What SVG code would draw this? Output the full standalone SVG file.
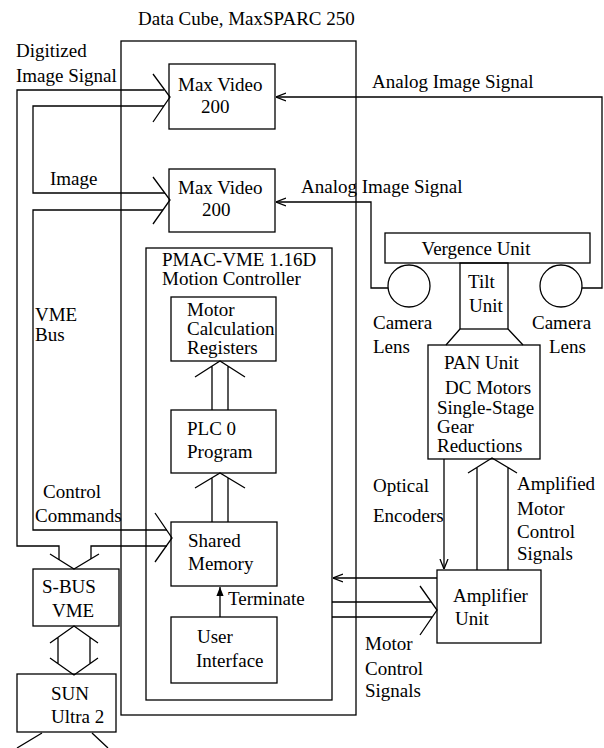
<svg xmlns="http://www.w3.org/2000/svg" width="604" height="748" viewBox="0 0 604 748">
<style>
.b{fill:none;stroke:#000;stroke-width:1.3}
.t{font-family:"Liberation Serif","Times New Roman",serif;font-size:19px;fill:#000}
.m{text-anchor:middle}
</style>
<defs>
<marker id="oa" viewBox="0 0 10 10" refX="10" refY="5" markerWidth="10" markerHeight="10" markerUnits="userSpaceOnUse" orient="auto">
<path d="M0,1 L10,5 L0,9" fill="none" stroke="#000" stroke-width="1.3"/>
</marker>
<marker id="fa" viewBox="0 0 10 10" refX="10" refY="5" markerWidth="9" markerHeight="9" markerUnits="userSpaceOnUse" orient="auto">
<path d="M0,1 L10,5 L0,9 Z" fill="#000"/>
</marker>
</defs>
<rect width="604" height="748" fill="#fff"/>

<g id="datacube">
<rect class="b" x="121" y="41" width="235" height="674"/>
<text class="t" x="138" y="25">Data Cube, MaxSPARC 250</text>
</g>
<g id="maxvideo1">
<rect class="b" x="169" y="64" width="106" height="65"/>
<text class="t" x="178" y="91">Max Video</text>
<text class="t" x="201" y="113">200</text>
</g>
<g id="maxvideo2">
<rect class="b" x="169" y="169" width="106" height="63"/>
<text class="t" x="178" y="194">Max Video</text>
<text class="t" x="202" y="216">200</text>
</g>
<g id="pmac">
<rect class="b" x="146" y="248" width="186" height="452"/>
<text class="t" x="162" y="266">PMAC-VME 1.16D</text>
<text class="t" x="162" y="285">Motion Controller</text>
</g>
<g id="motorcalc">
<rect class="b" x="171" y="297" width="105" height="64"/>
<text class="t" x="187" y="316">Motor</text>
<text class="t" x="187" y="335">Calculation</text>
<text class="t" x="187" y="354">Registers</text>
</g>
<g id="plc0">
<rect class="b" x="171" y="410" width="105" height="63"/>
<text class="t" x="187" y="435">PLC 0</text>
<text class="t" x="187" y="458">Program</text>
</g>
<g id="sharedmem">
<rect class="b" x="171" y="522" width="106" height="64"/>
<text class="t" x="188" y="547">Shared</text>
<text class="t" x="188" y="570">Memory</text>
</g>
<g id="userif">
<rect class="b" x="171" y="617" width="106" height="66"/>
<text class="t" x="197" y="643">User</text>
<text class="t" x="196" y="667">Interface</text>
</g>
<g id="sbus">
<rect class="b" x="33" y="569" width="86" height="57"/>
<text class="t" x="42" y="593">S-BUS</text>
<text class="t" x="52" y="617">VME</text>
</g>
<g id="sun">
<rect class="b" x="17" y="674" width="99" height="58"/>
<text class="t" x="51" y="700">SUN</text>
<text class="t" x="51" y="723">Ultra 2</text>
<path class="b" d="M42,733 L17,748 M92,733 L108,748"/>
</g>
<g id="vergence">
<rect class="b" x="385" y="233" width="205" height="30"/>
<text class="t m" x="476" y="255">Vergence Unit</text>
</g>
<g id="lensL">
<circle class="b" cx="409" cy="286" r="21"/>
<text class="t" x="373" y="329">Camera</text>
<text class="t" x="373" y="353">Lens</text>
</g>
<g id="lensR">
<circle class="b" cx="561" cy="286" r="21"/>
<text class="t" x="532" y="329">Camera</text>
<text class="t" x="549" y="353">Lens</text>
</g>
<g id="tilt">
<rect class="b" x="460" y="263" width="48" height="66"/>
<text class="t" x="468" y="288">Tilt</text>
<text class="t" x="469" y="312">Unit</text>
<path class="b" d="M460,329 L446,345 M508,329 L523,345"/>
</g>
<g id="pan">
<rect class="b" x="428" y="345" width="112" height="114"/>
<text class="t" x="444" y="369">PAN Unit</text>
<text class="t" x="445" y="394">DC Motors</text>
<text class="t" x="437" y="414">Single-Stage</text>
<text class="t" x="437" y="433">Gear</text>
<text class="t" x="437" y="452">Reductions</text>
</g>
<g id="amplifier">
<rect class="b" x="437" y="570" width="104" height="73"/>
<text class="t" x="453" y="602">Amplifier</text>
<text class="t" x="455" y="625">Unit</text>
</g>

<g id="connectors">
<path class="b" d="M164,90 H17 V546 H59 V560"/>
<path class="b" d="M164,106 H33 V193 H165"/>
<path class="b" d="M163,210 H33 V530 H167"/>
<path class="b" d="M167,546 H91 V559"/>
<path class="b" d="M153,74 L170,97 L153,122"/>
<path class="b" d="M153,177 L170,200 L153,224"/>
<path class="b" d="M155,513 L172,538 L155,562"/>
<path class="b" d="M50,554 L74,569 L99,554"/>
<path class="b" d="M50,643 L74,626 L98,643 M50,658 L74,675 L98,658 M58,637 V664 M90,637 V664"/>
<path class="b" d="M195,377 L220,361 L245,377 M212,410 V366 M228,410 V366"/>
<path class="b" d="M195,488 L220,473 L245,488 M212,522 V478 M228,522 V478"/>
<path class="b" d="M220,617 V587" marker-end="url(#fa)"/>
<path class="b" d="M582,288 H602 V97 H276" marker-end="url(#oa)"/>
<path class="b" d="M388,288 H371 V202 H276" marker-end="url(#oa)"/>
<path class="b" d="M444,459 V569" marker-end="url(#oa)"/>
<path class="b" d="M468,473 L492,458 L517,473 M477,570 V467 M508,570 V467"/>
<path class="b" d="M437,578 H333" marker-end="url(#oa)"/>
<path class="b" d="M420,586 L437,610 L420,635 M332,602 H431 M332,617 H432"/>
</g>

<g id="labels">
<text class="t" x="16" y="57">Digitized</text>
<text class="t" x="16" y="82">Image Signal</text>
<text class="t" x="50" y="185">Image</text>
<text class="t" x="35" y="321">VME</text>
<text class="t" x="35" y="341">Bus</text>
<text class="t" x="43" y="498">Control</text>
<text class="t" x="35" y="522">Commands</text>
<text class="t" x="372" y="88">Analog Image Signal</text>
<text class="t" x="301" y="193">Analog Image Signal</text>
<text class="t" x="228" y="605">Terminate</text>
<text class="t" x="373" y="492">Optical</text>
<text class="t" x="373" y="522">Encoders</text>
<text class="t" x="517" y="490">Amplified</text>
<text class="t" x="517" y="515">Motor</text>
<text class="t" x="517" y="538">Control</text>
<text class="t" x="517" y="560">Signals</text>
<text class="t" x="365" y="650">Motor</text>
<text class="t" x="365" y="675">Control</text>
<text class="t" x="365" y="697">Signals</text>
</g>
</svg>
